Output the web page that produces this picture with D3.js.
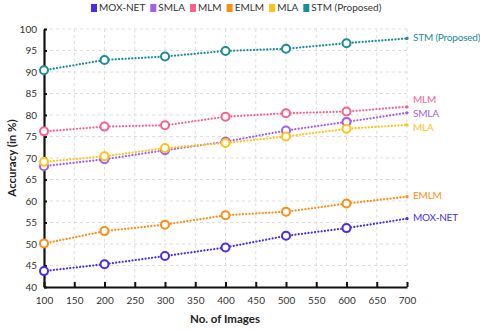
<!DOCTYPE html>
<html><head><meta charset="utf-8">
<script src="https://cdn.jsdelivr.net/npm/d3@7"></script>
<style>
html,body{margin:0;padding:0;background:#fff;}
svg{display:block;font-family:Lato,"Open Sans",sans-serif;}
</style></head>
<body>
<svg id="chart" width="480" height="330"></svg>
<script>
const images = [100, 200, 300, 400, 500, 600, 700];
const seriesNames = ["MOX-NET", "SMLA", "MLM", "EMLM", "MLA", "STM (Proposed)"];
const moxNet = [43.7, 45.3, 47.2, 49.2, 51.9, 53.7, 55.9];
const smla   = [68.1, 69.7, 71.8, 73.8, 76.4, 78.4, 80.5];
const mlm    = [76.2, 77.3, 77.6, 79.6, 80.4, 80.8, 81.9];
const emlm   = [50.1, 53.0, 54.5, 56.7, 57.5, 59.4, 61.0];
const mla    = [69.1, 70.4, 72.3, 73.5, 75.0, 76.8, 77.7];
const stm    = [90.4, 92.8, 93.6, 94.9, 95.4, 96.7, 97.8];
const xTicks = [100, 150, 200, 250, 300, 350, 400, 450, 500, 550, 600, 650, 700];
const yTicks = [40, 45, 50, 55, 60, 65, 70, 75, 80, 85, 90, 95, 100];
const colors = ["#4a2ee6", "#a35ef0", "#f7628c", "#ff8c14", "#ffc314", "#1c8c98"];

const seriesValues = [moxNet, smla, mlm, emlm, mla, stm];
const labelShift = [0, 2, -6, 0, 4, 0];

const svg = d3.select("#chart");
const x = d3.scaleLinear().domain([100, 700]).range([44, 407]);
const y = d3.scaleLinear().domain([40, 100]).range([287, 29]);

// grid
const grid = svg.append("g");
grid.selectAll("line.vx").data(xTicks.slice(1)).join("line")
  .attr("x1", d => x(d)).attr("x2", d => x(d)).attr("y1", y(100)).attr("y2", y(40))
  .attr("stroke", "#dcdcdc").attr("stroke-width", 1).attr("stroke-dasharray", "3,3");
grid.selectAll("line.hy").data(yTicks.slice(1)).join("line")
  .attr("x1", x(100)).attr("x2", x(700)).attr("y1", d => y(d)).attr("y2", d => y(d))
  .attr("stroke", "#dcdcdc").attr("stroke-width", 1).attr("stroke-dasharray", "3,3");

// axes
const xAxis = d3.axisBottom(x).tickValues(xTicks).tickSizeInner(-5).tickSizeOuter(0).tickPadding(10).tickFormat(d3.format("d"));
const yAxis = d3.axisLeft(y).tickValues(yTicks).tickSizeInner(-3).tickSizeOuter(0).tickPadding(7).tickFormat(d3.format("d"));
const gx = svg.append("g").attr("transform", `translate(0,${y(40)})`).call(xAxis);
const gy = svg.append("g").attr("transform", `translate(${x(100)},0)`).call(yAxis);
[gx, gy].forEach(g => {
  g.select(".domain").attr("stroke", "#111").attr("stroke-width", 2.2);
  g.selectAll(".tick line").attr("stroke", "#111").attr("stroke-width", 2);
  g.selectAll(".tick text").attr("fill", "#333").attr("font-size", 10).attr("font-family", "Lato, sans-serif");
});

// lines
const line = d3.line().x((d, i) => x(images[i])).y(d => y(d));
seriesValues.forEach((vals, k) => {
  const g = svg.append("g");
  g.append("path").datum(vals).attr("d", line)
    .attr("fill", "none").attr("stroke", colors[k]).attr("stroke-width", 2.2)
    .attr("stroke-linecap", "round").attr("stroke-dasharray", "0.1,3.2");
  g.selectAll("circle").data(vals.slice(0, 6)).join("circle")
    .attr("cx", (d, i) => x(images[i])).attr("cy", d => y(d)).attr("r", 4)
    .attr("fill", "#fff").attr("stroke", colors[k]).attr("stroke-width", 2);
  g.append("circle").attr("cx", x(images[6])).attr("cy", y(vals[6])).attr("r", 1.6).attr("fill", colors[k]);
  g.append("text").attr("x", x(700) + 6).attr("y", y(vals[6]) + labelShift[k])
    .attr("dominant-baseline", "middle").attr("fill", colors[k])
    .attr("font-size", 10).attr("letter-spacing", -0.2).attr("font-family", "Lato, sans-serif").text(seriesNames[k]);
});

// legend
const legend = svg.append("g");
let lx = 91;
seriesNames.forEach((name, k) => {
  legend.append("rect").attr("x", lx).attr("y", 4).attr("width", 6).attr("height", 8).attr("fill", colors[k]);
  const t = legend.append("text").attr("x", lx + 8).attr("y", 8.5).attr("dominant-baseline", "middle")
    .attr("fill", "#333").attr("font-size", 10).attr("font-family", "Lato, sans-serif").text(name);
  lx += 8 + t.node().getComputedTextLength() + 5;
});

// axis titles
svg.append("text").attr("x", 225).attr("y", 323).attr("text-anchor", "middle")
  .attr("font-weight", "bold").attr("font-size", 11.5).attr("fill", "#222").text("No. of Images");
svg.append("text").attr("transform", `translate(13,${(y(40)+y(100))/2}) rotate(-90)`)
  .attr("text-anchor", "middle").attr("dominant-baseline", "middle")
  .attr("font-weight", "bold").attr("font-size", 11.5).attr("fill", "#222").text("Accuracy (in %)");
</script>
</body></html>
